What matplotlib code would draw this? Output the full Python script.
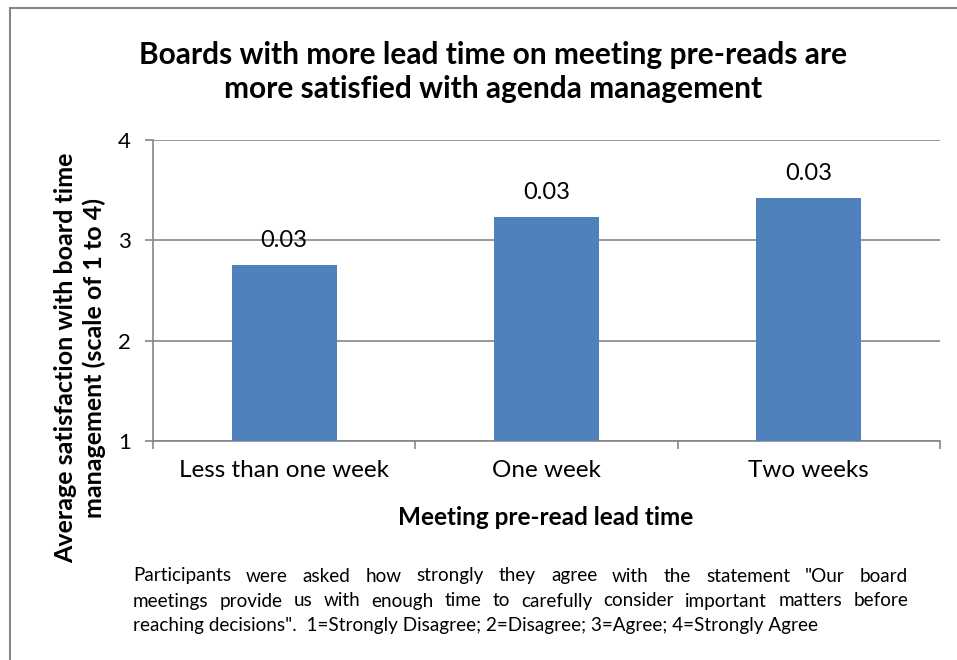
import numpy as np
import matplotlib
matplotlib.use("Agg")
import matplotlib.pyplot as plt
from matplotlib.patches import Rectangle

# data
categories = ["Less than one week", "One week", "Two weeks"]
satisfaction = [2.75, 3.23, 3.42]
bar_labels = ["0.03", "0.03", "0.03"]
y_ticks = [1, 2, 3, 4]

title = "Boards with more lead time on meeting pre-reads are\nmore satisfied with agenda management"
y_label = "Average satisfaction with board time\nmanagement (scale of 1 to 4)"
x_label = "Meeting pre-read lead time"
note_lines = [
    'Participants were asked how strongly they agree with the statement "Our board',
    'meetings provide us with enough time to carefully consider important matters before',
    'reaching decisions".  1=Strongly Disagree; 2=Disagree; 3=Agree; 4=Strongly Agree',
]

plt.rcParams['font.family'] = ['Lato', 'DejaVu Sans']
grey = "#868686"
W, H = 957, 660

fig = plt.figure(figsize=(9.57, 6.6), dpi=100)
# outer frame of the chart object (cut off on right/bottom)
fig.patches.append(Rectangle((10/W, -0.01), 1.0, 1 - 8/H + 0.01, transform=fig.transFigure,
                             fill=False, edgecolor=grey, linewidth=1.5))

ax = fig.add_axes([153/W, 1 - 441/H, (940 - 153)/W, (441 - 140)/H])
x = np.arange(len(categories))
ax.bar(x, [v - 1 for v in satisfaction], bottom=1, width=0.4, color="#4F81BD", zorder=3)
for xi, v, lab in zip(x, satisfaction, bar_labels):
    ax.annotate(lab, (xi, v), xytext=(0, 13), textcoords="offset points",
                ha="center", va="baseline", fontsize=17, color="black")

ax.set_xlim(-0.5, len(categories) - 0.5)
ax.set_ylim(1, 4)
ax.set_yticks(y_ticks)
ax.tick_params(axis="y", labelsize=16, length=6, width=1.2, color=grey, pad=10)
ax.set_xticks(x)
ax.set_xticklabels(categories)
ax.tick_params(axis="x", which="major", labelsize=17.5, length=0, pad=14)
ax.set_xticks(np.arange(len(categories) + 1) - 0.5, minor=True)
ax.tick_params(axis="x", which="minor", length=6, width=1.2, color=grey)
ax.grid(axis="y", color=grey, linewidth=1.2, zorder=0)
for s in ["top", "right"]:
    ax.spines[s].set_visible(False)
for s in ["left", "bottom"]:
    ax.spines[s].set_color(grey)
    ax.spines[s].set_linewidth(1.2)

fig.text(546/W, 1 - 525/H, x_label, ha="center", va="baseline", fontsize=17.5,
         fontweight="bold")
fig.text(80/W, 1 - 358/H, y_label, ha="center", va="center", rotation=90,
         fontsize=18, fontweight="bold", linespacing=1.25, multialignment="center")

fig.text(493/W, 1 - 72/H, title, ha="center", va="center", fontsize=21.5,
         fontweight="bold", linespacing=1.25)

# justified footnote
fig.canvas.draw()
renderer = fig.canvas.get_renderer()
left_px, right_px = 133, 908
line_y = [576, 601, 626]
for i, (line, ly) in enumerate(zip(note_lines, line_y)):
    yf = 1 - ly/H
    if i == len(note_lines) - 1:
        fig.text(left_px/W, yf, line, ha="left", va="center", fontsize=13.6)
        continue
    words = line.split(" ")
    texts = [fig.text(0, yf, w, ha="left", va="center", fontsize=13.6) for w in words]
    widths = [t.get_window_extent(renderer).width for t in texts]
    gap = (right_px - left_px - sum(widths)) / (len(words) - 1)
    pos = left_px
    for t, w in zip(texts, widths):
        t.set_x(pos/W)
        pos += w + gap

fig.savefig("out.png", dpi=100)
